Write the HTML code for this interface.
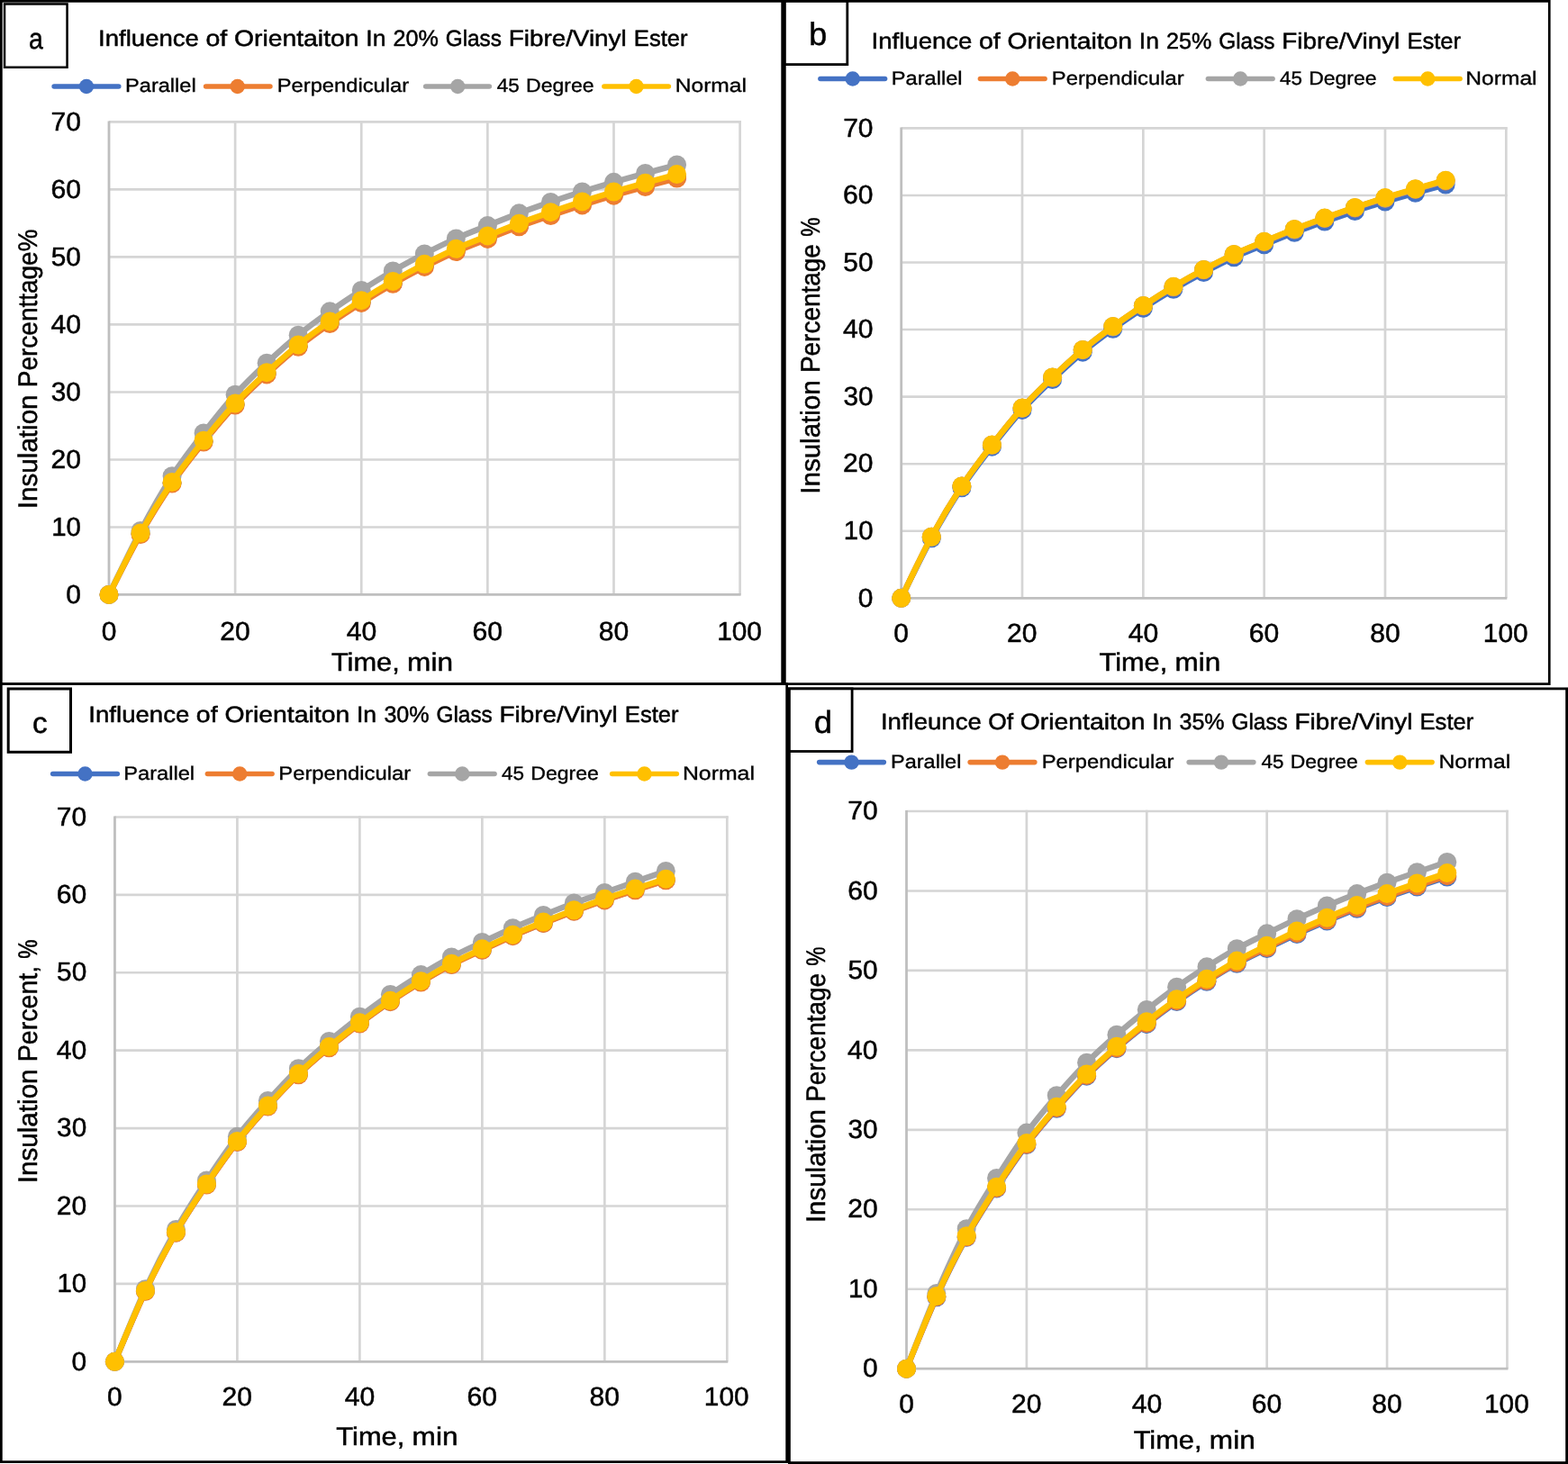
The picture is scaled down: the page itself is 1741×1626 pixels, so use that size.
<!DOCTYPE html>
<html lang="en">
<head>
<meta charset="utf-8">
<title>Influence of Orientation on Insulation Percentage of Glass Fibre/Vinyl Ester</title>
<style>
html, body { margin: 0; padding: 0; background: #ffffff; }
body { width: 1741px; height: 1626px; overflow: hidden; font-family: "Liberation Sans", sans-serif; }
svg { display: block; }
svg text { font-family: "Liberation Sans", sans-serif; fill: #000000; stroke: #000000; stroke-width: 0.5px; text-rendering: geometricPrecision; }
svg text.legend { stroke-width: 0.35px; }
</style>
</head>
<body>
<svg width="1741" height="1626" viewBox="0 0 1741 1626" role="img" aria-label="Four line charts (a-d) of insulation percentage versus time for 20%, 25%, 30% and 35% glass fibre/vinyl ester at parallel, perpendicular, 45 degree and normal orientations">
<rect x="0" y="0" width="1741" height="1626" fill="#ffffff"/>
<g class="panel" id="panel-a">
<path d="M121.00 585.44H822.90M121.00 510.44H822.90M121.00 435.43H822.90M121.00 360.42H822.90M121.00 285.41H822.90M121.00 210.41H822.90M121.00 135.40H822.90" stroke="#D5D5D5" stroke-width="2.6" fill="none"/>
<path d="M261.12 134.20V660.45M401.24 134.20V660.45M541.36 134.20V660.45M681.48 134.20V660.45M821.60 134.20V660.45" stroke="#D5D5D5" stroke-width="2.7" fill="none"/>
<path d="M121.00 134.40V661.45M120.00 660.45H822.60" stroke="#BFBFBF" stroke-width="2.8" fill="none"/>
<g class="ticks" font-size="29.2">
<text x="73.27" y="670" textLength="16.65" lengthAdjust="spacingAndGlyphs">0</text>
<text x="57.21" y="595" textLength="32.69" lengthAdjust="spacingAndGlyphs">10</text>
<text x="56.51" y="520" textLength="33.42" lengthAdjust="spacingAndGlyphs">20</text>
<text x="56.83" y="445" textLength="33.08" lengthAdjust="spacingAndGlyphs">30</text>
<text x="56.40" y="370" textLength="33.53" lengthAdjust="spacingAndGlyphs">40</text>
<text x="56.78" y="295" textLength="33.13" lengthAdjust="spacingAndGlyphs">50</text>
<text x="56.49" y="220" textLength="33.44" lengthAdjust="spacingAndGlyphs">60</text>
<text x="56.57" y="145" textLength="33.36" lengthAdjust="spacingAndGlyphs">70</text>
<text x="112.68" y="711" textLength="16.65" lengthAdjust="spacingAndGlyphs">0</text>
<text x="244.24" y="711" textLength="33.42" lengthAdjust="spacingAndGlyphs">20</text>
<text x="384.72" y="711" textLength="33.53" lengthAdjust="spacingAndGlyphs">40</text>
<text x="524.46" y="711" textLength="33.44" lengthAdjust="spacingAndGlyphs">60</text>
<text x="664.72" y="711" textLength="33.38" lengthAdjust="spacingAndGlyphs">80</text>
<text x="796.17" y="711" textLength="49.74" lengthAdjust="spacingAndGlyphs">100</text>
</g>
<text class="axis-title" y="745" font-size="28.3"><tspan x="367.96" textLength="75.82" lengthAdjust="spacingAndGlyphs">Time,</tspan> <tspan x="452.14" textLength="50.83" lengthAdjust="spacingAndGlyphs">min</tspan></text>
<text class="axis-title" transform="translate(40.65 0) rotate(-90)" y="0" font-size="29.8"><tspan x="-565.18" textLength="126.77" lengthAdjust="spacingAndGlyphs">Insulation</tspan> <tspan x="-430.15" textLength="175.67" lengthAdjust="spacingAndGlyphs">Percenttage%</tspan></text>
<text class="chart-title" y="51" font-size="25.0"><tspan x="109.00" textLength="111.93" lengthAdjust="spacingAndGlyphs">Influence</tspan> <tspan x="228.45" textLength="23.74" lengthAdjust="spacingAndGlyphs">of</tspan> <tspan x="259.94" textLength="138.63" lengthAdjust="spacingAndGlyphs">Orientaiton</tspan> <tspan x="406.34" textLength="22.14" lengthAdjust="spacingAndGlyphs">In</tspan> <tspan x="436.47" textLength="50.39" lengthAdjust="spacingAndGlyphs">20%</tspan> <tspan x="494.71" textLength="62.29" lengthAdjust="spacingAndGlyphs">Glass</tspan> <tspan x="564.73" textLength="130.98" lengthAdjust="spacingAndGlyphs">Fibre/Vinyl</tspan> <tspan x="703.86" textLength="59.71" lengthAdjust="spacingAndGlyphs">Ester</tspan></text>
<path d="M60.15 96.00H131.75" stroke="#4472C4" stroke-width="5.6" stroke-linecap="round" fill="none"/>
<circle cx="95.95" cy="96.00" r="8.2" fill="#4472C4"/>
<text class="legend" y="102" font-size="21.2"><tspan x="139.04" textLength="78.67" lengthAdjust="spacingAndGlyphs">Parallel</tspan></text>
<path d="M228.60 96.00H299.90" stroke="#ED7D31" stroke-width="5.6" stroke-linecap="round" fill="none"/>
<circle cx="263.70" cy="96.00" r="8.2" fill="#ED7D31"/>
<text class="legend" y="102" font-size="21.2"><tspan x="307.73" textLength="146.39" lengthAdjust="spacingAndGlyphs">Perpendicular</tspan></text>
<path d="M472.70 96.00H543.30" stroke="#A5A5A5" stroke-width="5.6" stroke-linecap="round" fill="none"/>
<circle cx="508.20" cy="96.00" r="8.2" fill="#A5A5A5"/>
<text class="legend" y="102" font-size="21.2"><tspan x="551.86" textLength="24.98" lengthAdjust="spacingAndGlyphs">45</tspan> <tspan x="584.14" textLength="75.36" lengthAdjust="spacingAndGlyphs">Degree</tspan></text>
<path d="M670.90 96.00H742.30" stroke="#FFC000" stroke-width="5.6" stroke-linecap="round" fill="none"/>
<circle cx="706.50" cy="96.00" r="8.2" fill="#FFC000"/>
<text class="legend" y="102" font-size="21.2"><tspan x="749.76" textLength="79.22" lengthAdjust="spacingAndGlyphs">Normal</tspan></text>
<g class="series" fill="#4472C4" stroke="#4472C4">
<path d="M121.00 660.45C126.84 649.16 144.35 613.41 156.03 592.72C167.71 572.03 179.38 553.39 191.06 536.32C202.74 519.24 214.41 504.79 226.09 490.27C237.77 475.74 249.44 461.71 261.12 449.17C272.80 436.63 284.47 425.83 296.15 415.04C307.83 404.26 319.50 393.86 331.18 384.45C342.86 375.03 354.53 366.73 366.21 358.57C377.89 350.41 389.56 342.84 401.24 335.47C412.92 328.11 424.59 321.06 436.27 314.40C447.95 307.74 459.62 301.48 471.30 295.50C482.98 289.53 494.65 283.74 506.33 278.56C518.01 273.37 529.68 269.02 541.36 264.39C553.04 259.75 564.71 255.06 576.39 250.74C588.07 246.41 599.74 242.43 611.42 238.44C623.10 234.46 634.77 230.54 646.45 226.82C658.13 223.10 669.80 219.51 681.48 216.10C693.16 212.69 704.83 209.55 716.51 206.35C728.19 203.15 745.70 198.48 751.54 196.91" fill="none" stroke-width="6.5" stroke-linejoin="round" stroke-linecap="round"/>
<circle cx="121.00" cy="660.45" r="10.5" stroke="none"/><circle cx="156.03" cy="592.72" r="10.5" stroke="none"/><circle cx="191.06" cy="536.32" r="10.5" stroke="none"/><circle cx="226.09" cy="490.27" r="10.5" stroke="none"/><circle cx="261.12" cy="449.17" r="10.5" stroke="none"/><circle cx="296.15" cy="415.04" r="10.5" stroke="none"/><circle cx="331.18" cy="384.45" r="10.5" stroke="none"/><circle cx="366.21" cy="358.57" r="10.5" stroke="none"/><circle cx="401.24" cy="335.47" r="10.5" stroke="none"/><circle cx="436.27" cy="314.40" r="10.5" stroke="none"/><circle cx="471.30" cy="295.50" r="10.5" stroke="none"/><circle cx="506.33" cy="278.56" r="10.5" stroke="none"/><circle cx="541.36" cy="264.39" r="10.5" stroke="none"/><circle cx="576.39" cy="250.74" r="10.5" stroke="none"/><circle cx="611.42" cy="238.44" r="10.5" stroke="none"/><circle cx="646.45" cy="226.82" r="10.5" stroke="none"/><circle cx="681.48" cy="216.10" r="10.5" stroke="none"/><circle cx="716.51" cy="206.35" r="10.5" stroke="none"/><circle cx="751.54" cy="196.91" r="10.5" stroke="none"/>
</g>
<g class="series" fill="#ED7D31" stroke="#ED7D31">
<path d="M121.00 660.45C126.84 649.29 144.35 614.03 156.03 593.47C167.71 572.91 179.38 554.16 191.06 537.09C202.74 520.02 214.41 505.58 226.09 491.06C237.77 476.54 249.44 462.51 261.12 449.98C272.80 437.45 284.47 426.66 296.15 415.88C307.83 405.10 319.50 394.71 331.18 385.31C342.86 375.90 354.53 367.61 366.21 359.46C377.89 351.30 389.56 343.73 401.24 336.38C412.92 329.03 424.59 321.98 436.27 315.33C447.95 308.67 459.62 302.42 471.30 296.45C482.98 290.49 494.65 284.71 506.33 279.53C518.01 274.35 529.68 270.01 541.36 265.38C553.04 260.75 564.71 256.07 576.39 251.75C588.07 247.44 599.74 243.46 611.42 239.48C623.10 235.50 634.77 231.60 646.45 227.88C658.13 224.16 669.80 220.58 681.48 217.18C693.16 213.78 704.83 210.65 716.51 207.46C728.19 204.26 745.70 199.60 751.54 198.03" fill="none" stroke-width="6.5" stroke-linejoin="round" stroke-linecap="round"/>
<circle cx="121.00" cy="660.45" r="10.5" stroke="none"/><circle cx="156.03" cy="593.47" r="10.5" stroke="none"/><circle cx="191.06" cy="537.09" r="10.5" stroke="none"/><circle cx="226.09" cy="491.06" r="10.5" stroke="none"/><circle cx="261.12" cy="449.98" r="10.5" stroke="none"/><circle cx="296.15" cy="415.88" r="10.5" stroke="none"/><circle cx="331.18" cy="385.31" r="10.5" stroke="none"/><circle cx="366.21" cy="359.46" r="10.5" stroke="none"/><circle cx="401.24" cy="336.38" r="10.5" stroke="none"/><circle cx="436.27" cy="315.33" r="10.5" stroke="none"/><circle cx="471.30" cy="296.45" r="10.5" stroke="none"/><circle cx="506.33" cy="279.53" r="10.5" stroke="none"/><circle cx="541.36" cy="265.38" r="10.5" stroke="none"/><circle cx="576.39" cy="251.75" r="10.5" stroke="none"/><circle cx="611.42" cy="239.48" r="10.5" stroke="none"/><circle cx="646.45" cy="227.88" r="10.5" stroke="none"/><circle cx="681.48" cy="217.18" r="10.5" stroke="none"/><circle cx="716.51" cy="207.46" r="10.5" stroke="none"/><circle cx="751.54" cy="198.03" r="10.5" stroke="none"/>
</g>
<g class="series" fill="#A5A5A5" stroke="#A5A5A5">
<path d="M121.00 660.45C126.84 648.61 144.35 611.38 156.03 589.42C167.71 567.45 179.38 546.74 191.06 528.66C202.74 510.59 214.41 496.03 226.09 480.96C237.77 465.88 249.44 451.17 261.12 438.20C272.80 425.24 284.47 414.18 296.15 403.18C307.83 392.17 319.50 381.71 331.18 372.16C342.86 362.61 354.53 354.16 366.21 345.87C377.89 337.58 389.56 329.88 401.24 322.39C412.92 314.90 424.59 307.68 436.27 300.94C447.95 294.20 459.62 287.94 471.30 281.93C482.98 275.92 494.65 270.10 506.33 264.88C518.01 259.65 529.68 255.27 541.36 250.60C553.04 245.92 564.71 241.20 576.39 236.84C588.07 232.48 599.74 228.42 611.42 224.43C623.10 220.45 634.77 216.61 646.45 212.92C658.13 209.23 669.80 205.71 681.48 202.31C693.16 198.91 704.83 195.73 716.51 192.52C728.19 189.31 745.70 184.61 751.54 183.03" fill="none" stroke-width="6.5" stroke-linejoin="round" stroke-linecap="round"/>
<circle cx="121.00" cy="660.45" r="10.5" stroke="none"/><circle cx="156.03" cy="589.42" r="10.5" stroke="none"/><circle cx="191.06" cy="528.66" r="10.5" stroke="none"/><circle cx="226.09" cy="480.96" r="10.5" stroke="none"/><circle cx="261.12" cy="438.20" r="10.5" stroke="none"/><circle cx="296.15" cy="403.18" r="10.5" stroke="none"/><circle cx="331.18" cy="372.16" r="10.5" stroke="none"/><circle cx="366.21" cy="345.87" r="10.5" stroke="none"/><circle cx="401.24" cy="322.39" r="10.5" stroke="none"/><circle cx="436.27" cy="300.94" r="10.5" stroke="none"/><circle cx="471.30" cy="281.93" r="10.5" stroke="none"/><circle cx="506.33" cy="264.88" r="10.5" stroke="none"/><circle cx="541.36" cy="250.60" r="10.5" stroke="none"/><circle cx="576.39" cy="236.84" r="10.5" stroke="none"/><circle cx="611.42" cy="224.43" r="10.5" stroke="none"/><circle cx="646.45" cy="212.92" r="10.5" stroke="none"/><circle cx="681.48" cy="202.31" r="10.5" stroke="none"/><circle cx="716.51" cy="192.52" r="10.5" stroke="none"/><circle cx="751.54" cy="183.03" r="10.5" stroke="none"/>
</g>
<g class="series" fill="#FFC000" stroke="#FFC000">
<path d="M121.00 660.45C126.84 649.04 144.35 612.81 156.03 591.97C167.71 571.13 179.38 552.54 191.06 535.41C202.74 518.29 214.41 503.79 226.09 489.21C237.77 474.63 249.44 460.54 261.12 447.95C272.80 435.37 284.47 424.52 296.15 413.68C307.83 402.84 319.50 392.39 331.18 382.92C342.86 373.46 354.53 365.11 366.21 356.90C377.89 348.68 389.56 341.06 401.24 333.64C412.92 326.23 424.59 319.13 436.27 312.42C447.95 305.70 459.62 299.39 471.30 293.37C482.98 287.34 494.65 281.50 506.33 276.26C518.01 271.03 529.68 266.62 541.36 261.94C553.04 257.25 564.71 252.51 576.39 248.14C588.07 243.76 599.74 239.72 611.42 235.68C623.10 231.65 634.77 227.68 646.45 223.91C658.13 220.13 669.80 216.50 681.48 213.03C693.16 209.57 704.83 206.38 716.51 203.13C728.19 199.88 745.70 195.13 751.54 193.53" fill="none" stroke-width="6.5" stroke-linejoin="round" stroke-linecap="round"/>
<circle cx="121.00" cy="660.45" r="10.5" stroke="none"/><circle cx="156.03" cy="591.97" r="10.5" stroke="none"/><circle cx="191.06" cy="535.41" r="10.5" stroke="none"/><circle cx="226.09" cy="489.21" r="10.5" stroke="none"/><circle cx="261.12" cy="447.95" r="10.5" stroke="none"/><circle cx="296.15" cy="413.68" r="10.5" stroke="none"/><circle cx="331.18" cy="382.92" r="10.5" stroke="none"/><circle cx="366.21" cy="356.90" r="10.5" stroke="none"/><circle cx="401.24" cy="333.64" r="10.5" stroke="none"/><circle cx="436.27" cy="312.42" r="10.5" stroke="none"/><circle cx="471.30" cy="293.37" r="10.5" stroke="none"/><circle cx="506.33" cy="276.26" r="10.5" stroke="none"/><circle cx="541.36" cy="261.94" r="10.5" stroke="none"/><circle cx="576.39" cy="248.14" r="10.5" stroke="none"/><circle cx="611.42" cy="235.68" r="10.5" stroke="none"/><circle cx="646.45" cy="223.91" r="10.5" stroke="none"/><circle cx="681.48" cy="213.03" r="10.5" stroke="none"/><circle cx="716.51" cy="203.13" r="10.5" stroke="none"/><circle cx="751.54" cy="193.53" r="10.5" stroke="none"/>
</g>
<rect x="1.35" y="1.35" width="867.30" height="758.30" fill="none" stroke="#000" stroke-width="2.7"/>
<rect x="5.05" y="4.45" width="69.50" height="70.30" fill="#fff" stroke="#000" stroke-width="2.5"/>
<text class="panel-label" x="31.94" y="54" font-size="32.5" textLength="15.81" lengthAdjust="spacingAndGlyphs">a</text>
</g>
<g class="panel" id="panel-b">
<path d="M1000.70 589.74H1673.60M1000.70 515.19H1673.60M1000.70 440.63H1673.60M1000.70 366.07H1673.60M1000.70 291.51H1673.60M1000.70 216.96H1673.60M1000.70 142.40H1673.60" stroke="#D5D5D5" stroke-width="2.6" fill="none"/>
<path d="M1135.02 141.20V664.30M1269.34 141.20V664.30M1403.66 141.20V664.30M1537.98 141.20V664.30M1672.30 141.20V664.30" stroke="#D5D5D5" stroke-width="2.7" fill="none"/>
<path d="M1000.70 141.40V665.30M999.70 664.30H1673.30" stroke="#BFBFBF" stroke-width="2.8" fill="none"/>
<g class="ticks" font-size="29.2">
<text x="952.87" y="674" textLength="16.65" lengthAdjust="spacingAndGlyphs">0</text>
<text x="936.81" y="599" textLength="32.69" lengthAdjust="spacingAndGlyphs">10</text>
<text x="936.11" y="524" textLength="33.42" lengthAdjust="spacingAndGlyphs">20</text>
<text x="936.43" y="450" textLength="33.08" lengthAdjust="spacingAndGlyphs">30</text>
<text x="936.00" y="375" textLength="33.53" lengthAdjust="spacingAndGlyphs">40</text>
<text x="936.38" y="301" textLength="33.13" lengthAdjust="spacingAndGlyphs">50</text>
<text x="936.09" y="226" textLength="33.44" lengthAdjust="spacingAndGlyphs">60</text>
<text x="936.17" y="152" textLength="33.36" lengthAdjust="spacingAndGlyphs">70</text>
<text x="992.38" y="713" textLength="16.65" lengthAdjust="spacingAndGlyphs">0</text>
<text x="1118.14" y="713" textLength="33.42" lengthAdjust="spacingAndGlyphs">20</text>
<text x="1252.82" y="713" textLength="33.53" lengthAdjust="spacingAndGlyphs">40</text>
<text x="1386.76" y="713" textLength="33.44" lengthAdjust="spacingAndGlyphs">60</text>
<text x="1521.22" y="713" textLength="33.38" lengthAdjust="spacingAndGlyphs">80</text>
<text x="1646.87" y="713" textLength="49.74" lengthAdjust="spacingAndGlyphs">100</text>
</g>
<text class="axis-title" y="745" font-size="28.3"><tspan x="1220.56" textLength="75.65" lengthAdjust="spacingAndGlyphs">Time,</tspan> <tspan x="1304.55" textLength="50.71" lengthAdjust="spacingAndGlyphs">min</tspan></text>
<text class="axis-title" transform="translate(909.85 0) rotate(-90)" y="0" font-size="29.8"><tspan x="-548.67" textLength="126.31" lengthAdjust="spacingAndGlyphs">Insulation</tspan> <tspan x="-414.12" textLength="143.04" lengthAdjust="spacingAndGlyphs">Percentage</tspan> <tspan x="-262.79" textLength="21.28" lengthAdjust="spacingAndGlyphs">%</tspan></text>
<text class="chart-title" y="54" font-size="25.0"><tspan x="967.50" textLength="111.94" lengthAdjust="spacingAndGlyphs">Influence</tspan> <tspan x="1086.95" textLength="23.75" lengthAdjust="spacingAndGlyphs">of</tspan> <tspan x="1118.46" textLength="138.64" lengthAdjust="spacingAndGlyphs">Orientaiton</tspan> <tspan x="1264.86" textLength="22.14" lengthAdjust="spacingAndGlyphs">In</tspan> <tspan x="1294.99" textLength="50.39" lengthAdjust="spacingAndGlyphs">25%</tspan> <tspan x="1353.24" textLength="62.30" lengthAdjust="spacingAndGlyphs">Glass</tspan> <tspan x="1423.26" textLength="130.99" lengthAdjust="spacingAndGlyphs">Fibre/Vinyl</tspan> <tspan x="1562.40" textLength="59.71" lengthAdjust="spacingAndGlyphs">Ester</tspan></text>
<path d="M910.95 87.50H982.55" stroke="#4472C4" stroke-width="5.6" stroke-linecap="round" fill="none"/>
<circle cx="946.75" cy="87.50" r="8.2" fill="#4472C4"/>
<text class="legend" y="94" font-size="21.2"><tspan x="989.78" textLength="78.83" lengthAdjust="spacingAndGlyphs">Parallel</tspan></text>
<path d="M1088.45 87.50H1160.05" stroke="#ED7D31" stroke-width="5.6" stroke-linecap="round" fill="none"/>
<circle cx="1124.25" cy="87.50" r="8.2" fill="#ED7D31"/>
<text class="legend" y="94" font-size="21.2"><tspan x="1167.77" textLength="146.90" lengthAdjust="spacingAndGlyphs">Perpendicular</tspan></text>
<path d="M1341.45 87.50H1413.05" stroke="#A5A5A5" stroke-width="5.6" stroke-linecap="round" fill="none"/>
<circle cx="1377.25" cy="87.50" r="8.2" fill="#A5A5A5"/>
<text class="legend" y="94" font-size="21.2"><tspan x="1420.96" textLength="24.97" lengthAdjust="spacingAndGlyphs">45</tspan> <tspan x="1453.23" textLength="75.32" lengthAdjust="spacingAndGlyphs">Degree</tspan></text>
<path d="M1549.45 87.50H1621.05" stroke="#FFC000" stroke-width="5.6" stroke-linecap="round" fill="none"/>
<circle cx="1585.25" cy="87.50" r="8.2" fill="#FFC000"/>
<text class="legend" y="94" font-size="21.2"><tspan x="1627.36" textLength="79.22" lengthAdjust="spacingAndGlyphs">Normal</tspan></text>
<g class="series" fill="#4472C4" stroke="#4472C4">
<path d="M1000.70 664.30C1006.30 653.20 1023.09 618.14 1034.28 597.72C1045.47 577.30 1056.67 558.71 1067.86 541.78C1079.05 524.85 1090.25 510.53 1101.44 496.14C1112.63 481.74 1123.83 467.83 1135.02 455.41C1146.21 442.99 1157.41 432.33 1168.60 421.62C1179.79 410.91 1190.99 400.52 1202.18 391.14C1213.37 381.77 1224.57 373.50 1235.76 365.36C1246.95 357.23 1258.15 349.68 1269.34 342.34C1280.53 335.01 1291.73 327.96 1302.92 321.34C1314.11 314.71 1325.31 308.53 1336.50 302.61C1347.69 296.69 1358.89 290.95 1370.08 285.81C1381.27 280.68 1392.47 276.37 1403.66 271.78C1414.85 267.19 1426.05 262.55 1437.24 258.27C1448.43 253.99 1459.63 250.05 1470.82 246.10C1482.01 242.16 1493.21 238.29 1504.40 234.60C1515.59 230.92 1526.79 227.37 1537.98 224.00C1549.17 220.63 1560.37 217.53 1571.56 214.36C1582.75 211.20 1599.54 206.58 1605.14 205.03" fill="none" stroke-width="6.5" stroke-linejoin="round" stroke-linecap="round"/>
<circle cx="1000.70" cy="664.30" r="10.5" stroke="none"/><circle cx="1034.28" cy="597.72" r="10.5" stroke="none"/><circle cx="1067.86" cy="541.78" r="10.5" stroke="none"/><circle cx="1101.44" cy="496.14" r="10.5" stroke="none"/><circle cx="1135.02" cy="455.41" r="10.5" stroke="none"/><circle cx="1168.60" cy="421.62" r="10.5" stroke="none"/><circle cx="1202.18" cy="391.14" r="10.5" stroke="none"/><circle cx="1235.76" cy="365.36" r="10.5" stroke="none"/><circle cx="1269.34" cy="342.34" r="10.5" stroke="none"/><circle cx="1302.92" cy="321.34" r="10.5" stroke="none"/><circle cx="1336.50" cy="302.61" r="10.5" stroke="none"/><circle cx="1370.08" cy="285.81" r="10.5" stroke="none"/><circle cx="1403.66" cy="271.78" r="10.5" stroke="none"/><circle cx="1437.24" cy="258.27" r="10.5" stroke="none"/><circle cx="1470.82" cy="246.10" r="10.5" stroke="none"/><circle cx="1504.40" cy="234.60" r="10.5" stroke="none"/><circle cx="1537.98" cy="224.00" r="10.5" stroke="none"/><circle cx="1571.56" cy="214.36" r="10.5" stroke="none"/><circle cx="1605.14" cy="205.03" r="10.5" stroke="none"/>
</g>
<g class="series" fill="#ED7D31" stroke="#ED7D31">
<path d="M1000.70 664.30C1006.30 652.96 1023.09 616.97 1034.28 596.27C1045.47 575.57 1056.67 557.11 1067.86 540.10C1079.05 523.09 1090.25 508.69 1101.44 494.21C1112.63 479.74 1123.83 465.74 1135.02 453.25C1146.21 440.75 1157.41 429.97 1168.60 419.21C1179.79 408.45 1190.99 398.08 1202.18 388.69C1213.37 379.29 1224.57 371.01 1235.76 362.86C1246.95 354.71 1258.15 347.14 1269.34 339.79C1280.53 332.43 1291.73 325.39 1302.92 318.73C1314.11 312.07 1325.31 305.81 1336.50 299.83C1347.69 293.86 1358.89 288.07 1370.08 282.87C1381.27 277.68 1392.47 273.32 1403.66 268.67C1414.85 264.03 1426.05 259.33 1437.24 255.00C1448.43 250.66 1459.63 246.66 1470.82 242.66C1482.01 238.66 1493.21 234.74 1504.40 231.00C1515.59 227.26 1526.79 223.66 1537.98 220.23C1549.17 216.80 1560.37 213.65 1571.56 210.43C1582.75 207.21 1599.54 202.51 1605.14 200.93" fill="none" stroke-width="6.5" stroke-linejoin="round" stroke-linecap="round"/>
<circle cx="1000.70" cy="664.30" r="10.5" stroke="none"/><circle cx="1034.28" cy="596.27" r="10.5" stroke="none"/><circle cx="1067.86" cy="540.10" r="10.5" stroke="none"/><circle cx="1101.44" cy="494.21" r="10.5" stroke="none"/><circle cx="1135.02" cy="453.25" r="10.5" stroke="none"/><circle cx="1168.60" cy="419.21" r="10.5" stroke="none"/><circle cx="1202.18" cy="388.69" r="10.5" stroke="none"/><circle cx="1235.76" cy="362.86" r="10.5" stroke="none"/><circle cx="1269.34" cy="339.79" r="10.5" stroke="none"/><circle cx="1302.92" cy="318.73" r="10.5" stroke="none"/><circle cx="1336.50" cy="299.83" r="10.5" stroke="none"/><circle cx="1370.08" cy="282.87" r="10.5" stroke="none"/><circle cx="1403.66" cy="268.67" r="10.5" stroke="none"/><circle cx="1437.24" cy="255.00" r="10.5" stroke="none"/><circle cx="1470.82" cy="242.66" r="10.5" stroke="none"/><circle cx="1504.40" cy="231.00" r="10.5" stroke="none"/><circle cx="1537.98" cy="220.23" r="10.5" stroke="none"/><circle cx="1571.56" cy="210.43" r="10.5" stroke="none"/><circle cx="1605.14" cy="200.93" r="10.5" stroke="none"/>
</g>
<g class="series" fill="#A5A5A5" stroke="#A5A5A5">
<path d="M1000.70 664.30C1006.30 652.96 1023.09 616.96 1034.28 596.25C1045.47 575.54 1056.67 557.07 1067.86 540.05C1079.05 523.04 1090.25 508.63 1101.44 494.15C1112.63 479.67 1123.83 465.67 1135.02 453.16C1146.21 440.66 1157.41 429.88 1168.60 419.11C1179.79 408.34 1190.99 397.96 1202.18 388.56C1213.37 379.16 1224.57 370.87 1235.76 362.71C1246.95 354.56 1258.15 346.98 1269.34 339.62C1280.53 332.26 1291.73 325.21 1302.92 318.54C1314.11 311.88 1325.31 305.61 1336.50 299.62C1347.69 293.64 1358.89 287.85 1370.08 282.65C1381.27 277.45 1392.47 273.08 1403.66 268.43C1414.85 263.77 1426.05 259.07 1437.24 254.73C1448.43 250.39 1459.63 246.38 1470.82 242.37C1482.01 238.37 1493.21 234.43 1504.40 230.69C1515.59 226.94 1526.79 223.33 1537.98 219.90C1549.17 216.46 1560.37 213.30 1571.56 210.08C1582.75 206.85 1599.54 202.14 1605.14 200.55" fill="none" stroke-width="6.5" stroke-linejoin="round" stroke-linecap="round"/>
<circle cx="1000.70" cy="664.30" r="10.5" stroke="none"/><circle cx="1034.28" cy="596.25" r="10.5" stroke="none"/><circle cx="1067.86" cy="540.05" r="10.5" stroke="none"/><circle cx="1101.44" cy="494.15" r="10.5" stroke="none"/><circle cx="1135.02" cy="453.16" r="10.5" stroke="none"/><circle cx="1168.60" cy="419.11" r="10.5" stroke="none"/><circle cx="1202.18" cy="388.56" r="10.5" stroke="none"/><circle cx="1235.76" cy="362.71" r="10.5" stroke="none"/><circle cx="1269.34" cy="339.62" r="10.5" stroke="none"/><circle cx="1302.92" cy="318.54" r="10.5" stroke="none"/><circle cx="1336.50" cy="299.62" r="10.5" stroke="none"/><circle cx="1370.08" cy="282.65" r="10.5" stroke="none"/><circle cx="1403.66" cy="268.43" r="10.5" stroke="none"/><circle cx="1437.24" cy="254.73" r="10.5" stroke="none"/><circle cx="1470.82" cy="242.37" r="10.5" stroke="none"/><circle cx="1504.40" cy="230.69" r="10.5" stroke="none"/><circle cx="1537.98" cy="219.90" r="10.5" stroke="none"/><circle cx="1571.56" cy="210.08" r="10.5" stroke="none"/><circle cx="1605.14" cy="200.55" r="10.5" stroke="none"/>
</g>
<g class="series" fill="#FFC000" stroke="#FFC000">
<path d="M1000.70 664.30C1006.30 652.95 1023.09 616.94 1034.28 596.23C1045.47 575.51 1056.67 557.04 1067.86 540.01C1079.05 522.99 1090.25 508.57 1101.44 494.09C1112.63 479.60 1123.83 465.59 1135.02 453.08C1146.21 440.57 1157.41 429.78 1168.60 419.01C1179.79 408.23 1190.99 397.85 1202.18 388.44C1213.37 379.03 1224.57 370.73 1235.76 362.57C1246.95 354.40 1258.15 346.82 1269.34 339.45C1280.53 332.09 1291.73 325.03 1302.92 318.35C1314.11 311.68 1325.31 305.41 1336.50 299.42C1347.69 293.43 1358.89 287.62 1370.08 282.42C1381.27 277.21 1392.47 272.84 1403.66 268.18C1414.85 263.52 1426.05 258.81 1437.24 254.46C1448.43 250.11 1459.63 246.10 1470.82 242.08C1482.01 238.07 1493.21 234.13 1504.40 230.38C1515.59 226.62 1526.79 223.01 1537.98 219.57C1549.17 216.12 1560.37 212.96 1571.56 209.73C1582.75 206.49 1599.54 201.77 1605.14 200.18" fill="none" stroke-width="6.5" stroke-linejoin="round" stroke-linecap="round"/>
<circle cx="1000.70" cy="664.30" r="10.5" stroke="none"/><circle cx="1034.28" cy="596.23" r="10.5" stroke="none"/><circle cx="1067.86" cy="540.01" r="10.5" stroke="none"/><circle cx="1101.44" cy="494.09" r="10.5" stroke="none"/><circle cx="1135.02" cy="453.08" r="10.5" stroke="none"/><circle cx="1168.60" cy="419.01" r="10.5" stroke="none"/><circle cx="1202.18" cy="388.44" r="10.5" stroke="none"/><circle cx="1235.76" cy="362.57" r="10.5" stroke="none"/><circle cx="1269.34" cy="339.45" r="10.5" stroke="none"/><circle cx="1302.92" cy="318.35" r="10.5" stroke="none"/><circle cx="1336.50" cy="299.42" r="10.5" stroke="none"/><circle cx="1370.08" cy="282.42" r="10.5" stroke="none"/><circle cx="1403.66" cy="268.18" r="10.5" stroke="none"/><circle cx="1437.24" cy="254.46" r="10.5" stroke="none"/><circle cx="1470.82" cy="242.08" r="10.5" stroke="none"/><circle cx="1504.40" cy="230.38" r="10.5" stroke="none"/><circle cx="1537.98" cy="219.57" r="10.5" stroke="none"/><circle cx="1571.56" cy="209.73" r="10.5" stroke="none"/><circle cx="1605.14" cy="200.18" r="10.5" stroke="none"/>
</g>
<rect x="871.35" y="1.35" width="848.90" height="758.30" fill="none" stroke="#000" stroke-width="2.7"/>
<rect x="871.40" y="1.40" width="69.40" height="70.20" fill="#fff" stroke="#000" stroke-width="2.8"/>
<text class="panel-label" x="898.22" y="50" font-size="35.5" textLength="19.95" lengthAdjust="spacingAndGlyphs">b</text>
</g>
<g class="panel" id="panel-c">
<path d="M127.45 1425.89H808.60M127.45 1339.49H808.60M127.45 1253.08H808.60M127.45 1166.67H808.60M127.45 1080.26H808.60M127.45 993.86H808.60M127.45 907.45H808.60" stroke="#D5D5D5" stroke-width="2.6" fill="none"/>
<path d="M263.42 906.25V1512.30M399.39 906.25V1512.30M535.36 906.25V1512.30M671.33 906.25V1512.30M807.30 906.25V1512.30" stroke="#D5D5D5" stroke-width="2.7" fill="none"/>
<path d="M127.45 906.45V1513.30M126.45 1512.30H808.30" stroke="#BFBFBF" stroke-width="2.8" fill="none"/>
<g class="ticks" font-size="29.2">
<text x="79.57" y="1522" textLength="16.65" lengthAdjust="spacingAndGlyphs">0</text>
<text x="63.51" y="1435" textLength="32.69" lengthAdjust="spacingAndGlyphs">10</text>
<text x="62.81" y="1349" textLength="33.42" lengthAdjust="spacingAndGlyphs">20</text>
<text x="63.13" y="1262" textLength="33.08" lengthAdjust="spacingAndGlyphs">30</text>
<text x="62.70" y="1176" textLength="33.53" lengthAdjust="spacingAndGlyphs">40</text>
<text x="63.08" y="1089" textLength="33.13" lengthAdjust="spacingAndGlyphs">50</text>
<text x="62.79" y="1003" textLength="33.44" lengthAdjust="spacingAndGlyphs">60</text>
<text x="62.87" y="917" textLength="33.36" lengthAdjust="spacingAndGlyphs">70</text>
<text x="119.13" y="1561" textLength="16.65" lengthAdjust="spacingAndGlyphs">0</text>
<text x="246.54" y="1561" textLength="33.42" lengthAdjust="spacingAndGlyphs">20</text>
<text x="382.87" y="1561" textLength="33.53" lengthAdjust="spacingAndGlyphs">40</text>
<text x="518.46" y="1561" textLength="33.44" lengthAdjust="spacingAndGlyphs">60</text>
<text x="654.57" y="1561" textLength="33.38" lengthAdjust="spacingAndGlyphs">80</text>
<text x="781.87" y="1561" textLength="49.74" lengthAdjust="spacingAndGlyphs">100</text>
</g>
<text class="axis-title" y="1605" font-size="28.3"><tspan x="373.36" textLength="75.88" lengthAdjust="spacingAndGlyphs">Time,</tspan> <tspan x="457.60" textLength="50.87" lengthAdjust="spacingAndGlyphs">min</tspan></text>
<text class="axis-title" transform="translate(40.75 0) rotate(-90)" y="0" font-size="29.8"><tspan x="-1314.18" textLength="126.76" lengthAdjust="spacingAndGlyphs">Insulation</tspan> <tspan x="-1179.21" textLength="106.38" lengthAdjust="spacingAndGlyphs">Percent,</tspan> <tspan x="-1064.86" textLength="21.36" lengthAdjust="spacingAndGlyphs">%</tspan></text>
<text class="chart-title" y="802" font-size="25.0"><tspan x="98.30" textLength="112.06" lengthAdjust="spacingAndGlyphs">Influence</tspan> <tspan x="217.88" textLength="23.77" lengthAdjust="spacingAndGlyphs">of</tspan> <tspan x="249.41" textLength="138.79" lengthAdjust="spacingAndGlyphs">Orientaiton</tspan> <tspan x="395.97" textLength="22.17" lengthAdjust="spacingAndGlyphs">In</tspan> <tspan x="426.41" textLength="50.17" lengthAdjust="spacingAndGlyphs">30%</tspan> <tspan x="484.45" textLength="62.36" lengthAdjust="spacingAndGlyphs">Glass</tspan> <tspan x="554.55" textLength="131.13" lengthAdjust="spacingAndGlyphs">Fibre/Vinyl</tspan> <tspan x="693.84" textLength="59.78" lengthAdjust="spacingAndGlyphs">Ester</tspan></text>
<path d="M58.70 859.50H130.30" stroke="#4472C4" stroke-width="5.6" stroke-linecap="round" fill="none"/>
<circle cx="94.50" cy="859.50" r="8.2" fill="#4472C4"/>
<text class="legend" y="866" font-size="21.2"><tspan x="137.28" textLength="78.83" lengthAdjust="spacingAndGlyphs">Parallel</tspan></text>
<path d="M230.45 859.50H302.05" stroke="#ED7D31" stroke-width="5.6" stroke-linecap="round" fill="none"/>
<circle cx="266.25" cy="859.50" r="8.2" fill="#ED7D31"/>
<text class="legend" y="866" font-size="21.2"><tspan x="309.27" textLength="146.90" lengthAdjust="spacingAndGlyphs">Perpendicular</tspan></text>
<path d="M477.45 859.50H549.05" stroke="#A5A5A5" stroke-width="5.6" stroke-linecap="round" fill="none"/>
<circle cx="513.25" cy="859.50" r="8.2" fill="#A5A5A5"/>
<text class="legend" y="866" font-size="21.2"><tspan x="556.96" textLength="25.03" lengthAdjust="spacingAndGlyphs">45</tspan> <tspan x="589.30" textLength="75.50" lengthAdjust="spacingAndGlyphs">Degree</tspan></text>
<path d="M679.70 859.50H751.30" stroke="#FFC000" stroke-width="5.6" stroke-linecap="round" fill="none"/>
<circle cx="715.50" cy="859.50" r="8.2" fill="#FFC000"/>
<text class="legend" y="866" font-size="21.2"><tspan x="757.94" textLength="80.01" lengthAdjust="spacingAndGlyphs">Normal</tspan></text>
<g class="series" fill="#4472C4" stroke="#4472C4">
<path d="M127.45 1512.30C133.12 1499.22 150.11 1457.77 161.44 1433.84C172.77 1409.92 184.10 1388.45 195.44 1368.74C206.77 1349.03 218.10 1332.34 229.43 1315.57C240.76 1298.79 252.09 1282.58 263.42 1268.09C274.75 1253.61 286.08 1241.12 297.41 1228.66C308.74 1216.19 320.07 1204.16 331.40 1193.28C342.74 1182.39 354.07 1172.79 365.40 1163.35C376.73 1153.90 388.06 1145.13 399.39 1136.61C410.72 1128.09 422.05 1119.89 433.38 1112.21C444.71 1104.53 456.04 1097.38 467.37 1090.53C478.71 1083.68 490.04 1077.04 501.37 1071.09C512.70 1065.15 524.03 1060.17 535.36 1054.86C546.69 1049.55 558.02 1044.18 569.35 1039.23C580.68 1034.27 592.01 1029.71 603.34 1025.15C614.68 1020.59 626.01 1016.12 637.34 1011.85C648.67 1007.58 660.00 1003.44 671.33 999.52C682.66 995.59 693.99 991.98 705.32 988.31C716.65 984.63 733.65 979.25 739.31 977.44" fill="none" stroke-width="6.5" stroke-linejoin="round" stroke-linecap="round"/>
<circle cx="127.45" cy="1512.30" r="10.5" stroke="none"/><circle cx="161.44" cy="1433.84" r="10.5" stroke="none"/><circle cx="195.44" cy="1368.74" r="10.5" stroke="none"/><circle cx="229.43" cy="1315.57" r="10.5" stroke="none"/><circle cx="263.42" cy="1268.09" r="10.5" stroke="none"/><circle cx="297.41" cy="1228.66" r="10.5" stroke="none"/><circle cx="331.40" cy="1193.28" r="10.5" stroke="none"/><circle cx="365.40" cy="1163.35" r="10.5" stroke="none"/><circle cx="399.39" cy="1136.61" r="10.5" stroke="none"/><circle cx="433.38" cy="1112.21" r="10.5" stroke="none"/><circle cx="467.37" cy="1090.53" r="10.5" stroke="none"/><circle cx="501.37" cy="1071.09" r="10.5" stroke="none"/><circle cx="535.36" cy="1054.86" r="10.5" stroke="none"/><circle cx="569.35" cy="1039.23" r="10.5" stroke="none"/><circle cx="603.34" cy="1025.15" r="10.5" stroke="none"/><circle cx="637.34" cy="1011.85" r="10.5" stroke="none"/><circle cx="671.33" cy="999.52" r="10.5" stroke="none"/><circle cx="705.32" cy="988.31" r="10.5" stroke="none"/><circle cx="739.31" cy="977.44" r="10.5" stroke="none"/>
</g>
<g class="series" fill="#ED7D31" stroke="#ED7D31">
<path d="M127.45 1512.30C133.12 1499.30 150.11 1458.13 161.44 1434.27C172.77 1410.42 184.10 1388.89 195.44 1369.17C206.77 1349.46 218.10 1332.77 229.43 1316.00C240.76 1299.22 252.09 1283.01 263.42 1268.53C274.75 1254.04 286.08 1241.56 297.41 1229.09C308.74 1216.62 320.07 1204.60 331.40 1193.71C342.74 1182.83 354.07 1173.22 365.40 1163.78C376.73 1154.33 388.06 1145.57 399.39 1137.04C410.72 1128.52 422.05 1120.32 433.38 1112.64C444.71 1104.96 456.04 1097.81 467.37 1090.96C478.71 1084.11 490.04 1077.47 501.37 1071.53C512.70 1065.58 524.03 1060.60 535.36 1055.29C546.69 1049.98 558.02 1044.61 569.35 1039.66C580.68 1034.71 592.01 1030.14 603.34 1025.58C614.68 1021.02 626.01 1016.55 637.34 1012.28C648.67 1008.01 660.00 1003.87 671.33 999.95C682.66 996.02 693.99 992.42 705.32 988.74C716.65 985.06 733.65 979.68 739.31 977.87" fill="none" stroke-width="6.5" stroke-linejoin="round" stroke-linecap="round"/>
<circle cx="127.45" cy="1512.30" r="10.5" stroke="none"/><circle cx="161.44" cy="1434.27" r="10.5" stroke="none"/><circle cx="195.44" cy="1369.17" r="10.5" stroke="none"/><circle cx="229.43" cy="1316.00" r="10.5" stroke="none"/><circle cx="263.42" cy="1268.53" r="10.5" stroke="none"/><circle cx="297.41" cy="1229.09" r="10.5" stroke="none"/><circle cx="331.40" cy="1193.71" r="10.5" stroke="none"/><circle cx="365.40" cy="1163.78" r="10.5" stroke="none"/><circle cx="399.39" cy="1137.04" r="10.5" stroke="none"/><circle cx="433.38" cy="1112.64" r="10.5" stroke="none"/><circle cx="467.37" cy="1090.96" r="10.5" stroke="none"/><circle cx="501.37" cy="1071.53" r="10.5" stroke="none"/><circle cx="535.36" cy="1055.29" r="10.5" stroke="none"/><circle cx="569.35" cy="1039.66" r="10.5" stroke="none"/><circle cx="603.34" cy="1025.58" r="10.5" stroke="none"/><circle cx="637.34" cy="1012.28" r="10.5" stroke="none"/><circle cx="671.33" cy="999.95" r="10.5" stroke="none"/><circle cx="705.32" cy="988.74" r="10.5" stroke="none"/><circle cx="739.31" cy="977.87" r="10.5" stroke="none"/>
</g>
<g class="series" fill="#A5A5A5" stroke="#A5A5A5">
<path d="M127.45 1512.30C133.12 1498.86 150.11 1456.17 161.44 1431.68C172.77 1407.20 184.10 1385.49 195.44 1365.38C206.77 1345.27 218.10 1328.18 229.43 1311.00C240.76 1293.82 252.09 1277.08 263.42 1262.32C274.75 1247.57 286.08 1235.09 297.41 1222.49C308.74 1209.89 320.07 1197.73 331.40 1186.72C342.74 1175.70 354.07 1165.97 365.40 1156.39C376.73 1146.81 388.06 1137.91 399.39 1129.26C410.72 1120.60 422.05 1112.24 433.38 1104.46C444.71 1096.68 456.04 1089.50 467.37 1082.58C478.71 1075.67 490.04 1068.96 501.37 1062.95C512.70 1056.94 524.03 1051.90 535.36 1046.52C546.69 1041.15 558.02 1035.71 569.35 1030.70C580.68 1025.68 592.01 1021.05 603.34 1016.42C614.68 1011.80 626.01 1007.10 637.34 1002.93C648.67 998.76 660.00 995.35 671.33 991.41C682.66 987.47 693.99 983.27 705.32 979.28C716.65 975.30 733.65 969.47 739.31 967.50" fill="none" stroke-width="6.5" stroke-linejoin="round" stroke-linecap="round"/>
<circle cx="127.45" cy="1512.30" r="10.5" stroke="none"/><circle cx="161.44" cy="1431.68" r="10.5" stroke="none"/><circle cx="195.44" cy="1365.38" r="10.5" stroke="none"/><circle cx="229.43" cy="1311.00" r="10.5" stroke="none"/><circle cx="263.42" cy="1262.32" r="10.5" stroke="none"/><circle cx="297.41" cy="1222.49" r="10.5" stroke="none"/><circle cx="331.40" cy="1186.72" r="10.5" stroke="none"/><circle cx="365.40" cy="1156.39" r="10.5" stroke="none"/><circle cx="399.39" cy="1129.26" r="10.5" stroke="none"/><circle cx="433.38" cy="1104.46" r="10.5" stroke="none"/><circle cx="467.37" cy="1082.58" r="10.5" stroke="none"/><circle cx="501.37" cy="1062.95" r="10.5" stroke="none"/><circle cx="535.36" cy="1046.52" r="10.5" stroke="none"/><circle cx="569.35" cy="1030.70" r="10.5" stroke="none"/><circle cx="603.34" cy="1016.42" r="10.5" stroke="none"/><circle cx="637.34" cy="1002.93" r="10.5" stroke="none"/><circle cx="671.33" cy="991.41" r="10.5" stroke="none"/><circle cx="705.32" cy="979.28" r="10.5" stroke="none"/><circle cx="739.31" cy="967.50" r="10.5" stroke="none"/>
</g>
<g class="series" fill="#FFC000" stroke="#FFC000">
<path d="M127.45 1512.30C133.12 1499.15 150.11 1457.42 161.44 1433.41C172.77 1409.40 184.10 1387.99 195.44 1368.26C206.77 1348.53 218.10 1331.82 229.43 1315.03C240.76 1298.24 252.09 1282.01 263.42 1267.51C274.75 1253.01 286.08 1240.51 297.41 1228.02C308.74 1215.53 320.07 1203.50 331.40 1192.59C342.74 1181.69 354.07 1172.07 365.40 1162.61C376.73 1153.15 388.06 1144.36 399.39 1135.82C410.72 1127.28 422.05 1119.07 433.38 1111.37C444.71 1103.67 456.04 1096.51 467.37 1089.64C478.71 1082.77 490.04 1076.12 501.37 1070.15C512.70 1064.19 524.03 1059.20 535.36 1053.87C546.69 1048.54 558.02 1043.15 569.35 1038.18C580.68 1033.22 592.01 1028.64 603.34 1024.06C614.68 1019.48 626.01 1015.00 637.34 1010.71C648.67 1006.42 660.00 1002.26 671.33 998.32C682.66 994.38 693.99 990.76 705.32 987.06C716.65 983.36 733.65 977.96 739.31 976.14" fill="none" stroke-width="6.5" stroke-linejoin="round" stroke-linecap="round"/>
<circle cx="127.45" cy="1512.30" r="10.5" stroke="none"/><circle cx="161.44" cy="1433.41" r="10.5" stroke="none"/><circle cx="195.44" cy="1368.26" r="10.5" stroke="none"/><circle cx="229.43" cy="1315.03" r="10.5" stroke="none"/><circle cx="263.42" cy="1267.51" r="10.5" stroke="none"/><circle cx="297.41" cy="1228.02" r="10.5" stroke="none"/><circle cx="331.40" cy="1192.59" r="10.5" stroke="none"/><circle cx="365.40" cy="1162.61" r="10.5" stroke="none"/><circle cx="399.39" cy="1135.82" r="10.5" stroke="none"/><circle cx="433.38" cy="1111.37" r="10.5" stroke="none"/><circle cx="467.37" cy="1089.64" r="10.5" stroke="none"/><circle cx="501.37" cy="1070.15" r="10.5" stroke="none"/><circle cx="535.36" cy="1053.87" r="10.5" stroke="none"/><circle cx="569.35" cy="1038.18" r="10.5" stroke="none"/><circle cx="603.34" cy="1024.06" r="10.5" stroke="none"/><circle cx="637.34" cy="1010.71" r="10.5" stroke="none"/><circle cx="671.33" cy="998.32" r="10.5" stroke="none"/><circle cx="705.32" cy="987.06" r="10.5" stroke="none"/><circle cx="739.31" cy="976.14" r="10.5" stroke="none"/>
</g>
<rect x="1.35" y="759.65" width="872.30" height="864.00" fill="none" stroke="#000" stroke-width="2.7"/>
<rect x="9.20" y="765.00" width="69.30" height="70.30" fill="#fff" stroke="#000" stroke-width="3.0"/>
<text class="panel-label" x="36.03" y="814" font-size="32.6" textLength="16.63" lengthAdjust="spacingAndGlyphs">c</text>
</g>
<g class="panel" id="panel-d">
<path d="M1006.50 1431.74H1674.75M1006.50 1343.29H1674.75M1006.50 1254.83H1674.75M1006.50 1166.37H1674.75M1006.50 1077.91H1674.75M1006.50 989.46H1674.75M1006.50 901.00H1674.75" stroke="#D5D5D5" stroke-width="2.6" fill="none"/>
<path d="M1139.89 899.80V1520.20M1273.28 899.80V1520.20M1406.67 899.80V1520.20M1540.06 899.80V1520.20M1673.45 899.80V1520.20" stroke="#D5D5D5" stroke-width="2.7" fill="none"/>
<path d="M1006.50 900.00V1521.20M1005.50 1520.20H1674.45" stroke="#BFBFBF" stroke-width="2.8" fill="none"/>
<g class="ticks" font-size="29.2">
<text x="957.97" y="1529" textLength="16.65" lengthAdjust="spacingAndGlyphs">0</text>
<text x="941.91" y="1441" textLength="32.69" lengthAdjust="spacingAndGlyphs">10</text>
<text x="941.21" y="1352" textLength="33.42" lengthAdjust="spacingAndGlyphs">20</text>
<text x="941.53" y="1264" textLength="33.08" lengthAdjust="spacingAndGlyphs">30</text>
<text x="941.10" y="1176" textLength="33.53" lengthAdjust="spacingAndGlyphs">40</text>
<text x="941.48" y="1087" textLength="33.13" lengthAdjust="spacingAndGlyphs">50</text>
<text x="941.19" y="999" textLength="33.44" lengthAdjust="spacingAndGlyphs">60</text>
<text x="941.27" y="910" textLength="33.36" lengthAdjust="spacingAndGlyphs">70</text>
<text x="998.18" y="1569" textLength="16.65" lengthAdjust="spacingAndGlyphs">0</text>
<text x="1123.01" y="1569" textLength="33.42" lengthAdjust="spacingAndGlyphs">20</text>
<text x="1256.76" y="1569" textLength="33.53" lengthAdjust="spacingAndGlyphs">40</text>
<text x="1389.77" y="1569" textLength="33.44" lengthAdjust="spacingAndGlyphs">60</text>
<text x="1523.30" y="1569" textLength="33.38" lengthAdjust="spacingAndGlyphs">80</text>
<text x="1648.02" y="1569" textLength="49.74" lengthAdjust="spacingAndGlyphs">100</text>
</g>
<text class="axis-title" y="1609" font-size="28.3"><tspan x="1258.66" textLength="75.85" lengthAdjust="spacingAndGlyphs">Time,</tspan> <tspan x="1342.87" textLength="50.85" lengthAdjust="spacingAndGlyphs">min</tspan></text>
<text class="axis-title" transform="translate(915.75 0) rotate(-90)" y="0" font-size="29.8"><tspan x="-1358.07" textLength="126.06" lengthAdjust="spacingAndGlyphs">Insulation</tspan> <tspan x="-1223.78" textLength="142.75" lengthAdjust="spacingAndGlyphs">Percentage</tspan> <tspan x="-1072.75" textLength="21.23" lengthAdjust="spacingAndGlyphs">%</tspan></text>
<text class="chart-title" y="810" font-size="25.0"><tspan x="977.90" textLength="111.89" lengthAdjust="spacingAndGlyphs">Infleunce</tspan> <tspan x="1097.25" textLength="27.84" lengthAdjust="spacingAndGlyphs">Of</tspan> <tspan x="1132.82" textLength="138.58" lengthAdjust="spacingAndGlyphs">Orientaiton</tspan> <tspan x="1279.16" textLength="22.13" lengthAdjust="spacingAndGlyphs">In</tspan> <tspan x="1309.54" textLength="50.10" lengthAdjust="spacingAndGlyphs">35%</tspan> <tspan x="1367.50" textLength="62.27" lengthAdjust="spacingAndGlyphs">Glass</tspan> <tspan x="1437.49" textLength="130.93" lengthAdjust="spacingAndGlyphs">Fibre/Vinyl</tspan> <tspan x="1576.57" textLength="59.69" lengthAdjust="spacingAndGlyphs">Ester</tspan></text>
<path d="M909.70 846.60H981.30" stroke="#4472C4" stroke-width="5.6" stroke-linecap="round" fill="none"/>
<circle cx="945.50" cy="846.60" r="8.2" fill="#4472C4"/>
<text class="legend" y="853" font-size="21.2"><tspan x="989.05" textLength="78.31" lengthAdjust="spacingAndGlyphs">Parallel</tspan></text>
<path d="M1077.20 846.60H1148.80" stroke="#ED7D31" stroke-width="5.6" stroke-linecap="round" fill="none"/>
<circle cx="1113.00" cy="846.60" r="8.2" fill="#ED7D31"/>
<text class="legend" y="853" font-size="21.2"><tspan x="1156.78" textLength="146.55" lengthAdjust="spacingAndGlyphs">Perpendicular</tspan></text>
<path d="M1320.20 846.60H1391.80" stroke="#A5A5A5" stroke-width="5.6" stroke-linecap="round" fill="none"/>
<circle cx="1356.00" cy="846.60" r="8.2" fill="#A5A5A5"/>
<text class="legend" y="853" font-size="21.2"><tspan x="1400.46" textLength="24.91" lengthAdjust="spacingAndGlyphs">45</tspan> <tspan x="1432.65" textLength="75.14" lengthAdjust="spacingAndGlyphs">Degree</tspan></text>
<path d="M1518.45 846.60H1590.05" stroke="#FFC000" stroke-width="5.6" stroke-linecap="round" fill="none"/>
<circle cx="1554.25" cy="846.60" r="8.2" fill="#FFC000"/>
<text class="legend" y="853" font-size="21.2"><tspan x="1597.44" textLength="79.75" lengthAdjust="spacingAndGlyphs">Normal</tspan></text>
<g class="series" fill="#4472C4" stroke="#4472C4">
<path d="M1006.50 1520.20C1012.06 1506.96 1028.73 1465.09 1039.85 1440.77C1050.96 1416.44 1062.08 1394.39 1073.19 1374.25C1084.31 1354.11 1095.43 1337.07 1106.54 1319.94C1117.66 1302.81 1128.77 1286.26 1139.89 1271.47C1151.01 1256.69 1162.12 1243.95 1173.24 1231.23C1184.35 1218.51 1195.47 1206.25 1206.59 1195.15C1217.70 1184.05 1228.82 1174.26 1239.93 1164.63C1251.05 1155.01 1262.16 1146.08 1273.28 1137.39C1284.40 1128.71 1295.51 1120.40 1306.63 1112.54C1317.74 1104.69 1328.86 1097.30 1339.97 1090.26C1351.09 1083.21 1362.21 1076.39 1373.32 1070.27C1384.44 1064.15 1395.55 1059.03 1406.67 1053.56C1417.79 1048.09 1428.90 1042.56 1440.02 1037.46C1451.13 1032.36 1462.25 1027.66 1473.37 1022.96C1484.48 1018.26 1495.60 1013.65 1506.71 1009.26C1517.83 1004.86 1528.94 1000.63 1540.06 996.61C1551.18 992.59 1562.29 988.89 1573.41 985.12C1584.52 981.35 1601.20 975.83 1606.76 973.98" fill="none" stroke-width="6.5" stroke-linejoin="round" stroke-linecap="round"/>
<circle cx="1006.50" cy="1520.20" r="10.5" stroke="none"/><circle cx="1039.85" cy="1440.77" r="10.5" stroke="none"/><circle cx="1073.19" cy="1374.25" r="10.5" stroke="none"/><circle cx="1106.54" cy="1319.94" r="10.5" stroke="none"/><circle cx="1139.89" cy="1271.47" r="10.5" stroke="none"/><circle cx="1173.24" cy="1231.23" r="10.5" stroke="none"/><circle cx="1206.59" cy="1195.15" r="10.5" stroke="none"/><circle cx="1239.93" cy="1164.63" r="10.5" stroke="none"/><circle cx="1273.28" cy="1137.39" r="10.5" stroke="none"/><circle cx="1306.63" cy="1112.54" r="10.5" stroke="none"/><circle cx="1339.97" cy="1090.26" r="10.5" stroke="none"/><circle cx="1373.32" cy="1070.27" r="10.5" stroke="none"/><circle cx="1406.67" cy="1053.56" r="10.5" stroke="none"/><circle cx="1440.02" cy="1037.46" r="10.5" stroke="none"/><circle cx="1473.37" cy="1022.96" r="10.5" stroke="none"/><circle cx="1506.71" cy="1009.26" r="10.5" stroke="none"/><circle cx="1540.06" cy="996.61" r="10.5" stroke="none"/><circle cx="1573.41" cy="985.12" r="10.5" stroke="none"/><circle cx="1606.76" cy="973.98" r="10.5" stroke="none"/>
</g>
<g class="series" fill="#ED7D31" stroke="#ED7D31">
<path d="M1006.50 1520.20C1012.06 1506.89 1028.73 1464.73 1039.85 1440.32C1050.96 1415.92 1062.08 1393.91 1073.19 1373.76C1084.31 1353.60 1095.43 1336.54 1106.54 1319.40C1117.66 1302.25 1128.77 1285.68 1139.89 1270.88C1151.01 1256.07 1162.12 1243.32 1173.24 1230.58C1184.35 1217.84 1195.47 1205.56 1206.59 1194.44C1217.70 1183.33 1228.82 1173.52 1239.93 1163.88C1251.05 1154.24 1262.16 1145.29 1273.28 1136.59C1284.40 1127.89 1295.51 1119.56 1306.63 1111.68C1317.74 1103.81 1328.86 1096.41 1339.97 1089.35C1351.09 1082.28 1362.21 1075.44 1373.32 1069.31C1384.44 1063.17 1395.55 1058.03 1406.67 1052.54C1417.79 1047.06 1428.90 1041.51 1440.02 1036.40C1451.13 1031.28 1462.25 1026.56 1473.37 1021.84C1484.48 1017.12 1495.60 1012.49 1506.71 1008.09C1517.83 1003.68 1528.94 999.43 1540.06 995.39C1551.18 991.35 1562.29 987.63 1573.41 983.84C1584.52 980.05 1601.20 974.52 1606.76 972.65" fill="none" stroke-width="6.5" stroke-linejoin="round" stroke-linecap="round"/>
<circle cx="1006.50" cy="1520.20" r="10.5" stroke="none"/><circle cx="1039.85" cy="1440.32" r="10.5" stroke="none"/><circle cx="1073.19" cy="1373.76" r="10.5" stroke="none"/><circle cx="1106.54" cy="1319.40" r="10.5" stroke="none"/><circle cx="1139.89" cy="1270.88" r="10.5" stroke="none"/><circle cx="1173.24" cy="1230.58" r="10.5" stroke="none"/><circle cx="1206.59" cy="1194.44" r="10.5" stroke="none"/><circle cx="1239.93" cy="1163.88" r="10.5" stroke="none"/><circle cx="1273.28" cy="1136.59" r="10.5" stroke="none"/><circle cx="1306.63" cy="1111.68" r="10.5" stroke="none"/><circle cx="1339.97" cy="1089.35" r="10.5" stroke="none"/><circle cx="1373.32" cy="1069.31" r="10.5" stroke="none"/><circle cx="1406.67" cy="1052.54" r="10.5" stroke="none"/><circle cx="1440.02" cy="1036.40" r="10.5" stroke="none"/><circle cx="1473.37" cy="1021.84" r="10.5" stroke="none"/><circle cx="1506.71" cy="1008.09" r="10.5" stroke="none"/><circle cx="1540.06" cy="995.39" r="10.5" stroke="none"/><circle cx="1573.41" cy="983.84" r="10.5" stroke="none"/><circle cx="1606.76" cy="972.65" r="10.5" stroke="none"/>
</g>
<g class="series" fill="#A5A5A5" stroke="#A5A5A5">
<path d="M1006.50 1520.20C1012.06 1506.24 1028.73 1462.33 1039.85 1436.43C1050.96 1410.53 1062.08 1386.10 1073.19 1364.78C1084.31 1343.46 1095.43 1326.30 1106.54 1308.52C1117.66 1290.74 1128.77 1273.39 1139.89 1258.10C1151.01 1242.81 1162.12 1229.77 1173.24 1216.79C1184.35 1203.81 1195.47 1191.48 1206.59 1180.21C1217.70 1168.95 1228.82 1158.99 1239.93 1149.21C1251.05 1139.43 1262.16 1130.35 1273.28 1121.52C1284.40 1112.69 1295.51 1104.18 1306.63 1096.22C1317.74 1088.27 1328.86 1080.90 1339.97 1073.81C1351.09 1066.72 1362.21 1059.85 1373.32 1053.69C1384.44 1047.54 1395.55 1042.36 1406.67 1036.85C1417.79 1031.34 1428.90 1025.77 1440.02 1020.63C1451.13 1015.49 1462.25 1010.68 1473.37 1006.00C1484.48 1001.32 1495.60 996.86 1506.71 992.55C1517.83 988.25 1528.94 984.16 1540.06 980.17C1551.18 976.18 1562.29 972.41 1573.41 968.63C1584.52 964.84 1601.20 959.30 1606.76 957.44" fill="none" stroke-width="6.5" stroke-linejoin="round" stroke-linecap="round"/>
<circle cx="1006.50" cy="1520.20" r="10.5" stroke="none"/><circle cx="1039.85" cy="1436.43" r="10.5" stroke="none"/><circle cx="1073.19" cy="1364.78" r="10.5" stroke="none"/><circle cx="1106.54" cy="1308.52" r="10.5" stroke="none"/><circle cx="1139.89" cy="1258.10" r="10.5" stroke="none"/><circle cx="1173.24" cy="1216.79" r="10.5" stroke="none"/><circle cx="1206.59" cy="1180.21" r="10.5" stroke="none"/><circle cx="1239.93" cy="1149.21" r="10.5" stroke="none"/><circle cx="1273.28" cy="1121.52" r="10.5" stroke="none"/><circle cx="1306.63" cy="1096.22" r="10.5" stroke="none"/><circle cx="1339.97" cy="1073.81" r="10.5" stroke="none"/><circle cx="1373.32" cy="1053.69" r="10.5" stroke="none"/><circle cx="1406.67" cy="1036.85" r="10.5" stroke="none"/><circle cx="1440.02" cy="1020.63" r="10.5" stroke="none"/><circle cx="1473.37" cy="1006.00" r="10.5" stroke="none"/><circle cx="1506.71" cy="992.55" r="10.5" stroke="none"/><circle cx="1540.06" cy="980.17" r="10.5" stroke="none"/><circle cx="1573.41" cy="968.63" r="10.5" stroke="none"/><circle cx="1606.76" cy="957.44" r="10.5" stroke="none"/>
</g>
<g class="series" fill="#FFC000" stroke="#FFC000">
<path d="M1006.50 1520.20C1012.06 1506.74 1028.73 1464.01 1039.85 1439.44C1050.96 1414.86 1062.08 1392.94 1073.19 1372.74C1084.31 1352.54 1095.43 1335.44 1106.54 1318.25C1117.66 1301.06 1128.77 1284.45 1139.89 1269.60C1151.01 1254.75 1162.12 1241.96 1173.24 1229.18C1184.35 1216.39 1195.47 1204.07 1206.59 1192.91C1217.70 1181.75 1228.82 1171.90 1239.93 1162.21C1251.05 1152.53 1262.16 1143.53 1273.28 1134.79C1284.40 1126.05 1295.51 1117.68 1306.63 1109.76C1317.74 1101.84 1328.86 1094.40 1339.97 1087.29C1351.09 1080.18 1362.21 1073.30 1373.32 1067.12C1384.44 1060.95 1395.55 1055.76 1406.67 1050.23C1417.79 1044.70 1428.90 1039.11 1440.02 1033.95C1451.13 1028.79 1462.25 1024.03 1473.37 1019.27C1484.48 1014.51 1495.60 1009.83 1506.71 1005.38C1517.83 1000.93 1528.94 996.64 1540.06 992.55C1551.18 988.47 1562.29 984.71 1573.41 980.88C1584.52 977.04 1601.20 971.44 1606.76 969.55" fill="none" stroke-width="6.5" stroke-linejoin="round" stroke-linecap="round"/>
<circle cx="1006.50" cy="1520.20" r="10.5" stroke="none"/><circle cx="1039.85" cy="1439.44" r="10.5" stroke="none"/><circle cx="1073.19" cy="1372.74" r="10.5" stroke="none"/><circle cx="1106.54" cy="1318.25" r="10.5" stroke="none"/><circle cx="1139.89" cy="1269.60" r="10.5" stroke="none"/><circle cx="1173.24" cy="1229.18" r="10.5" stroke="none"/><circle cx="1206.59" cy="1192.91" r="10.5" stroke="none"/><circle cx="1239.93" cy="1162.21" r="10.5" stroke="none"/><circle cx="1273.28" cy="1134.79" r="10.5" stroke="none"/><circle cx="1306.63" cy="1109.76" r="10.5" stroke="none"/><circle cx="1339.97" cy="1087.29" r="10.5" stroke="none"/><circle cx="1373.32" cy="1067.12" r="10.5" stroke="none"/><circle cx="1406.67" cy="1050.23" r="10.5" stroke="none"/><circle cx="1440.02" cy="1033.95" r="10.5" stroke="none"/><circle cx="1473.37" cy="1019.27" r="10.5" stroke="none"/><circle cx="1506.71" cy="1005.38" r="10.5" stroke="none"/><circle cx="1540.06" cy="992.55" r="10.5" stroke="none"/><circle cx="1573.41" cy="980.88" r="10.5" stroke="none"/><circle cx="1606.76" cy="969.55" r="10.5" stroke="none"/>
</g>
<rect x="876.40" y="764.90" width="863.20" height="859.70" fill="none" stroke="#000" stroke-width="2.8"/>
<rect x="876.40" y="764.90" width="69.70" height="69.60" fill="#fff" stroke="#000" stroke-width="2.8"/>
<text class="panel-label" x="904.04" y="814" font-size="35.0" textLength="19.94" lengthAdjust="spacingAndGlyphs">d</text>
</g>
</svg>
</body>
</html>
